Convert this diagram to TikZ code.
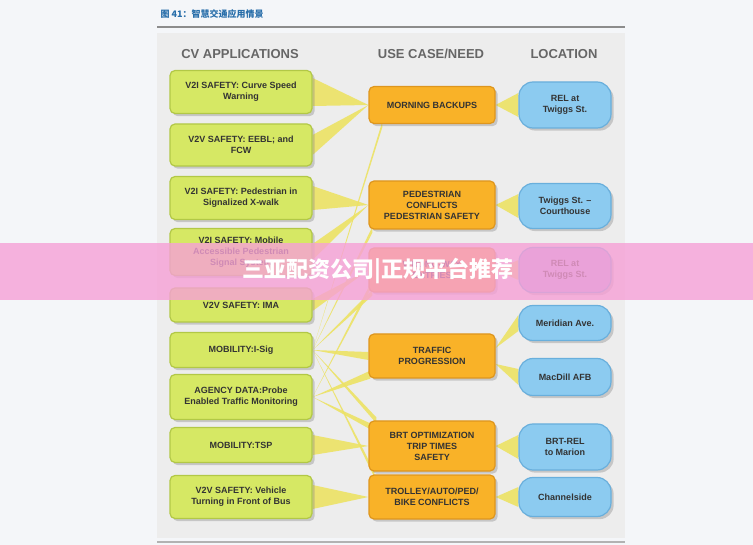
\documentclass[tikz,border=0pt]{standalone}
\usepackage{fontspec}
\setmainfont{Liberation Sans}
\newfontfamily\cjk{Noto Sans CJK SC}
\usetikzlibrary{calc,shadows}
\definecolor{appgreen}{RGB}{214,232,100}
\definecolor{appgreenline}{RGB}{178,200,70}
\definecolor{needorange}{RGB}{249,178,40}
\definecolor{needorangeline}{RGB}{222,150,30}
\definecolor{locblue}{RGB}{140,203,240}
\definecolor{locblueline}{RGB}{105,175,220}
\definecolor{locpurple}{RGB}{190,170,230}
\definecolor{bandyellow}{RGB}{236,226,100}
\definecolor{titleblue}{RGB}{40,110,170}
\definecolor{pagebg}{RGB}{244,246,249}
\definecolor{bannerpink}{RGB}{246,160,214}
\pgfdeclarelayer{back}
\pgfdeclarelayer{bands}
\pgfsetlayers{back,bands,main}
% wedge from a box to another box
\newcommand{\band}[3]{\fill[bandyellow,opacity=0.9] ($#1+(0,#3)$) -- ($#1+(0,-#3)$) -- #2 -- cycle;}
\begin{document}
\begin{tikzpicture}[x=1pt,y=-1pt,
  every node/.style={font=\bfseries\fontsize{9}{11}\selectfont,align=center,text=black!80},
  app/.style={draw=appgreenline,line width=1.2pt,fill=appgreen,rounded corners=5pt,minimum width=142pt,drop shadow={opacity=0.35}},
  need/.style={draw=needorangeline,line width=1.2pt,fill=needorange,rounded corners=5pt,minimum width=126pt,drop shadow={opacity=0.35}},
  loc/.style={draw=locblueline,line width=1.2pt,fill=locblue,rounded corners=14pt,minimum width=92pt,drop shadow={opacity=0.35}},
  head/.style={font=\bfseries\fontsize{13}{15}\selectfont,text=black!60}]
  \begin{pgfonlayer}{back}
  \useasboundingbox[fill=pagebg] (0,0) rectangle (753,545);
  \draw[black!45,line width=1.5pt] (157,27) -- (625,27);
  \fill[black!7] (157,33) rectangle (625,538);
  \draw[black!30,line width=1.5pt] (157,542) -- (625,542);
  \end{pgfonlayer}
  \node[anchor=west,font=\cjk\bfseries\fontsize{9}{11}\selectfont,text=titleblue] (title) at (157,14) {图 41：智慧交通应用情景};
  \node[head] (hcv) at (240,54) {CV APPLICATIONS};
  \node[head] (huse) at (431,54) {USE CASE/NEED};
  \node[head] (hloc) at (564,54) {LOCATION};
  % CV applications
  \node[app,minimum height=43pt] (g1) at (241,92) {V2I SAFETY: Curve Speed\\Warning};
  \node[app,minimum height=42pt] (g2) at (241,145) {V2V SAFETY: EEBL; and\\FCW};
  \node[app,minimum height=43pt] (g3) at (241,198) {V2I SAFETY: Pedestrian in\\Signalized X-walk};
  \node[app,minimum height=47pt] (g4) at (241,252) {V2I SAFETY: Mobile\\Accessible Pedestrian\\Signal System};
  \node[app,minimum height=34pt] (g5) at (241,305) {V2V SAFETY: IMA};
  \node[app,minimum height=35pt] (g6) at (241,350) {MOBILITY:I-Sig};
  \node[app,minimum height=45pt] (g7) at (241,397) {AGENCY DATA:Probe\\Enabled Traffic Monitoring};
  \node[app,minimum height=35pt] (g8) at (241,445) {MOBILITY:TSP};
  \node[app,minimum height=43pt] (g9) at (241,497) {V2V SAFETY: Vehicle\\Turning in Front of Bus};
  % use cases
  \node[need,minimum height=37pt] (o1) at (432,105) {MORNING BACKUPS};
  \node[need,minimum height=48pt] (o2) at (432,205) {PEDESTRIAN\\CONFLICTS\\PEDESTRIAN SAFETY};
  \node[need,minimum height=44pt] (o3) at (432,270) {WRONG-WAY\\ENTRIES};
  \node[need,minimum height=44pt] (o4) at (432,356) {TRAFFIC\\PROGRESSION};
  \node[need,minimum height=50pt] (o5) at (432,446) {BRT OPTIMIZATION\\TRIP TIMES\\SAFETY};
  \node[need,minimum height=44pt] (o6) at (432,497) {TROLLEY/AUTO/PED/\\BIKE CONFLICTS};
  % locations
  \node[loc,minimum height=46pt] (b1) at (565,105) {REL at\\Twiggs St.};
  \node[loc,minimum height=45pt] (b2) at (565,206) {Twiggs St. --\\Courthouse};
  \node[loc,minimum height=45pt,fill=locpurple] (b3) at (565,270) {REL at\\Twiggs St.};
  \node[loc,minimum height=35pt] (b4) at (565,323) {Meridian Ave.};
  \node[loc,minimum height=37pt] (b5) at (565,377) {MacDill AFB};
  \node[loc,minimum height=46pt] (b6) at (565,447) {BRT-REL\\to Marion};
  \node[loc,minimum height=39pt] (b7) at (565,497) {Channelside};
  % bands behind the boxes
  \begin{pgfonlayer}{bands}
  \band{(g1.east)}{(o1.west)}{14}
  \band{(g2.east)}{(o1.west)}{10}
  \band{(g3.east)}{(o2.west)}{12}
  \band{(g4.east)}{(o2.west)}{8}
  \band{(g5.east)}{(o3.west)}{6}
  \band{($(o1.south west)+(14,0)$)}{(g6.east)}{3}
  \band{($(o2.south west)+(4,0)$)}{(g6.east)}{3}
  \band{($(o3.south west)+(4,0)$)}{(g6.east)}{3}
  \band{(o4.west)}{(g6.east)}{4}
  \band{($(o5.north west)+(8,0)$)}{(g6.east)}{3}
  \band{($(o6.north west)+(6,0)$)}{(g6.east)}{3}
  \band{($(o3.south west)+(2,-6)$)}{(g7.east)}{3}
  \band{($(o4.south west)+(2,-4)$)}{(g7.east)}{4}
  \band{($(o5.north west)+(2,6)$)}{(g7.east)}{3}
  \band{(g8.east)}{(o5.west)}{10}
  \band{(g9.east)}{(o6.west)}{12}
  \band{(b1.west)}{(o1.east)}{12}
  \band{(b2.west)}{(o2.east)}{12}
  \band{(b3.west)}{(o3.east)}{10}
  \band{(b4.west)}{($(o4.east)+(0,-8)$)}{8}
  \band{(b5.west)}{($(o4.east)+(0,8)$)}{8}
  \band{(b6.west)}{(o5.east)}{12}
  \band{(b7.west)}{(o6.east)}{10}
  \end{pgfonlayer}
  % banner
  \fill[bannerpink,opacity=0.8] (0,243) rectangle (753,300);
  \node[font=\cjk\bfseries\fontsize{22}{24}\selectfont,text=white] (banner) at (378,271) {三亚配资公司|正规平台推荐};
\end{tikzpicture}
\end{document}
